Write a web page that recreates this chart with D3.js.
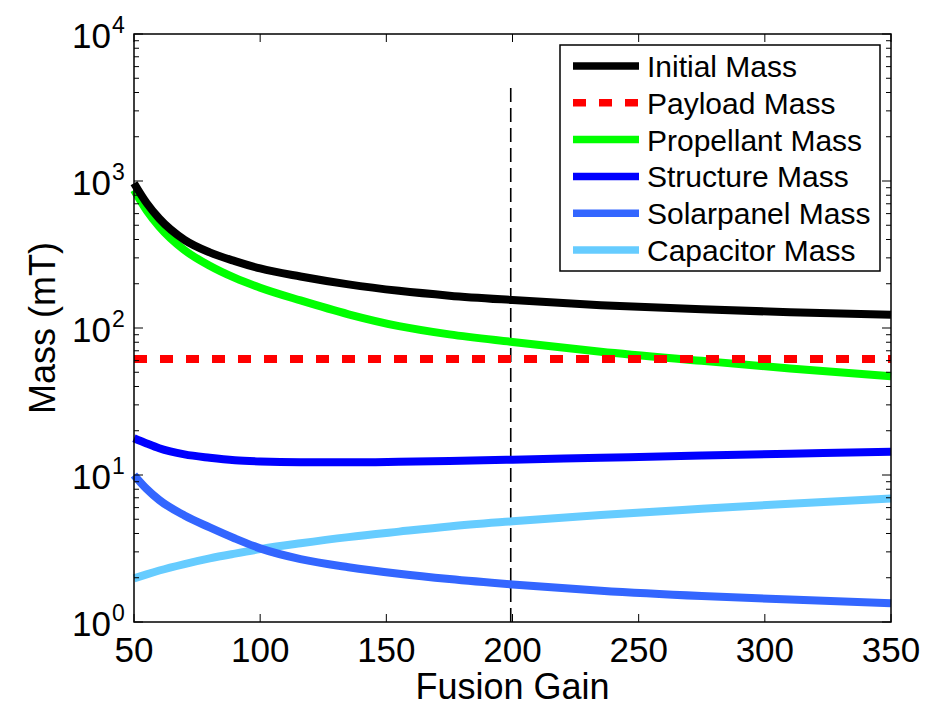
<!DOCTYPE html>
<html>
<head>
<meta charset="utf-8">
<script src="https://cdn.jsdelivr.net/npm/d3@7"></script>
<style>
  body { margin: 0; background: #fff; }
  svg { display: block; font-family: 'Liberation Sans', Arial, Helvetica, sans-serif; }
  .tick-label { font-size: 35px; fill: #000; }
  .axis-title { font-size: 36px; fill: #000; }
  .legend text { font-size: 30px; fill: #000; }
</style>
</head>
<body>
<div id="chart"></div>
<script>
// fusion gain samples
const gain = [50, 55, 60, 70, 80, 90, 100, 116, 135, 155, 175, 200, 235, 275, 310, 350];

// masses in mT
const initialMass    = [966, 708, 556, 398, 327, 285, 254, 224, 198, 179, 166, 155, 143, 134, 128, 123];
const payloadMass    = [61.5, 61.5, 61.5, 61.5, 61.5, 61.5, 61.5, 61.5, 61.5, 61.5, 61.5, 61.5, 61.5, 61.5, 61.5, 61.5];
const propellantMass = [869, 631, 490, 339, 265, 219, 188, 154, 124, 103, 90.5, 80.4, 69, 59.8, 53, 47];
const structureMass  = [17.8, 16.4, 15.2, 13.8, 13.1, 12.6, 12.35, 12.2, 12.2, 12.3, 12.45, 12.7, 13.1, 13.55, 13.95, 14.4];
const solarMass      = [10.0, 8.05, 6.76, 5.3, 4.4, 3.7, 3.17, 2.68, 2.36, 2.13, 1.96, 1.8, 1.63, 1.5, 1.42, 1.34];
const capacitorMass  = [1.98, 2.11, 2.24, 2.48, 2.71, 2.92, 3.13, 3.43, 3.78, 4.12, 4.47, 4.84, 5.35, 5.89, 6.38, 6.93];

const seriesNames = ['Initial Mass', 'Payload Mass', 'Propellant Mass', 'Structure Mass', 'Solarpanel Mass', 'Capacitor Mass'];

// vertical marker at the chosen gain
const markerGain = 199.3;
const markerRange = [1, 4300];

const xTicks = [50, 100, 150, 200, 250, 300, 350];
const yDecades = [0, 1, 2, 3, 4];

const width = 929, height = 707;
const margin = {top: 34, right: 38, bottom: 85, left: 134};

const svg = d3.select('#chart').append('svg')
    .attr('width', width)
    .attr('height', height);

const x = d3.scaleLinear()
    .domain([50, 350])
    .range([margin.left, width - margin.right]);

const y = d3.scaleLog()
    .domain([1, 10000])
    .range([height - margin.bottom, margin.top]);

const x0 = x.range()[0], x1 = x.range()[1];
const y0 = y.range()[0], y1 = y.range()[1];

const series = [
    {name: seriesNames[0], values: initialMass,    color: '#000000', dash: null},
    {name: seriesNames[1], values: payloadMass,    color: '#ff0000', dash: '13 13'},
    {name: seriesNames[2], values: propellantMass, color: '#00ff00', dash: null},
    {name: seriesNames[3], values: structureMass,  color: '#0000ff', dash: null},
    {name: seriesNames[4], values: solarMass,      color: '#3366ff', dash: null},
    {name: seriesNames[5], values: capacitorMass,  color: '#66ccff', dash: null}
];

const line = d3.line()
    .x(d => x(d[0]))
    .y(d => y(d[1]))
    .curve(d3.curveMonotoneX);

// dashed marker
svg.append('line')
    .attr('x1', x(markerGain)).attr('x2', x(markerGain))
    .attr('y1', y(markerRange[0])).attr('y2', y(markerRange[1]))
    .attr('stroke', '#000')
    .attr('stroke-width', 1.6)
    .attr('stroke-dasharray', '14 6');

// curves, drawn so the first ends up on top like matlab
series.slice().reverse().forEach(s => {
    svg.append('path')
        .datum(gain.map((g, i) => [g, s.values[i]]))
        .attr('d', line)
        .attr('fill', 'none')
        .attr('stroke', s.color)
        .attr('stroke-width', 8)
        .attr('stroke-dasharray', s.dash);
});

// box
svg.append('rect')
    .attr('x', x0).attr('y', y1)
    .attr('width', x1 - x0).attr('height', y0 - y1)
    .attr('fill', 'none')
    .attr('stroke', '#000')
    .attr('stroke-width', 1.5);

const ticks = svg.append('g').attr('stroke', '#000').attr('stroke-width', 1);

// x ticks, bottom and top, pointing in
xTicks.forEach(t => {
    ticks.append('line').attr('x1', x(t)).attr('x2', x(t)).attr('y1', y0).attr('y2', y0 - 8);
    ticks.append('line').attr('x1', x(t)).attr('x2', x(t)).attr('y1', y1).attr('y2', y1 + 8);
    svg.append('text')
        .attr('class', 'tick-label')
        .attr('x', x(t))
        .attr('y', y0 + 40)
        .attr('text-anchor', 'middle')
        .text(t);
});

// y ticks, log major + minor on both sides
yDecades.forEach(d => {
    const v = Math.pow(10, d);
    ticks.append('line').attr('x1', x0).attr('x2', x0 + 9).attr('y1', y(v)).attr('y2', y(v));
    ticks.append('line').attr('x1', x1).attr('x2', x1 - 9).attr('y1', y(v)).attr('y2', y(v));
    if (d < 4) {
        for (let k = 2; k <= 9; k++) {
            const m = k * v;
            ticks.append('line').attr('x1', x0).attr('x2', x0 + 5).attr('y1', y(m)).attr('y2', y(m));
            ticks.append('line').attr('x1', x1).attr('x2', x1 - 5).attr('y1', y(m)).attr('y2', y(m));
        }
    }
    svg.append('text')
        .attr('class', 'tick-label')
        .attr('x', 111)
        .attr('y', y(v) + 14)
        .attr('text-anchor', 'end')
        .text('10');
    svg.append('text')
        .attr('x', 112)
        .attr('y', y(v) - 1)
        .style('font-size', '23px')
        .text(d);
});

// axis titles
svg.append('text')
    .attr('class', 'axis-title')
    .attr('x', (x0 + x1) / 2)
    .attr('y', 699)
    .attr('text-anchor', 'middle')
    .text('Fusion Gain');

svg.append('text')
    .attr('class', 'axis-title')
    .attr('transform', 'translate(55,' + ((y0 + y1) / 2) + ') rotate(-90)')
    .attr('text-anchor', 'middle')
    .text('Mass (mT)');

// legend
const legend = svg.append('g').attr('class', 'legend');
legend.append('rect')
    .attr('x', 560).attr('y', 45)
    .attr('width', 320).attr('height', 226)
    .attr('fill', '#fff')
    .attr('stroke', '#000')
    .attr('stroke-width', 1.5);

series.forEach((s, i) => {
    const ry = 66 + i * 36.8;
    legend.append('line')
        .attr('x1', 573).attr('x2', 639)
        .attr('y1', ry).attr('y2', ry)
        .attr('stroke', s.color)
        .attr('stroke-width', 7.5)
        .attr('stroke-dasharray', s.dash);
    legend.append('text')
        .attr('x', 647)
        .attr('y', ry + 11)
        .text(s.name);
});
</script>
</body>
</html>
